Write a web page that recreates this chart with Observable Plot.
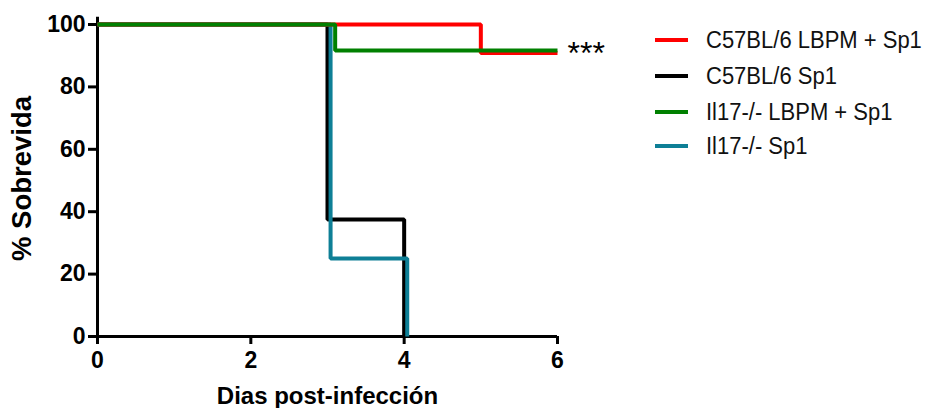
<!DOCTYPE html>
<html>
<head>
<meta charset="utf-8">
<script src="https://cdn.jsdelivr.net/npm/d3@7"></script>
<script src="https://cdn.jsdelivr.net/npm/@observablehq/plot@0.6"></script>
<style>
  html, body { margin: 0; padding: 0; background: #fff; }
  #wrap { position: relative; width: 925px; height: 408px; font-family: "Liberation Sans", Arial, sans-serif; }
  #wrap svg g[aria-label$="tick label"],
  #wrap svg g[aria-label$="tick label"] text { font-size: 23px; font-weight: bold; }
  #legend { position: absolute; left: 655px; top: 0; }
  .row { position: absolute; left: 0; height: 36px; display: flex; align-items: center; white-space: nowrap; }
  .sw { width: 33px; height: 4px; margin-right: 18px; }
  .lab { font-size: 22px; color: #111; display: inline-block; transform: scaleY(1.1); }
</style>
</head>
<body>
<div id="wrap"></div>
<script>
// Kaplan–Meier survival, four groups (days post-infection vs % survival)
const groups = ["C57BL/6 LBPM + Sp1", "C57BL/6 Sp1", "Il17-/- LBPM + Sp1", "Il17-/- Sp1"];
const colors = ["#ff0000", "#000000", "#008000", "#0e7f96"];

// step points (day, % survival) per group
const wtLbpmDays = [0, 5, 6];
const wtLbpmSurv = [100, 90.9, 90.9];
const wtSp1Days = [0, 3, 4];
const wtSp1Surv = [100, 37.5, 0];
const koLbpmDays = [0, 3.1, 6];
const koLbpmSurv = [100, 91.7, 91.7];
const koSp1Days = [0, 3.04, 4.04];
const koSp1Surv = [100, 25, 0];

const xTicks = [0, 2, 4, 6];
const yTicks = [0, 20, 40, 60, 80, 100];
const xTitle = "Dias post-infección";
const yTitle = "% Sobrevida";
const signif = "***";

const series = [
  {days: wtLbpmDays, surv: wtLbpmSurv},
  {days: wtSp1Days, surv: wtSp1Surv},
  {days: koLbpmDays, surv: koLbpmSurv},
  {days: koSp1Days, surv: koSp1Surv}
].map((s, i) => ({name: groups[i], color: colors[i], rows: s.days.map((d, j) => ({t: d, s: s.surv[j]}))}));

// drawing order: black, teal, red, green on top
const drawOrder = [1, 3, 0, 2];

const chart = Plot.plot({
  width: 925,
  height: 408,
  marginLeft: 97,
  marginRight: 368,
  marginTop: 24,
  marginBottom: 72,
  x: {domain: [0, 6]},
  y: {domain: [0, 100]},
  style: {fontFamily: "'Liberation Sans', Arial, sans-serif", color: "#000", background: "transparent", overflow: "visible"},
  marks: [
    Plot.axisY({ticks: yTicks, tickFormat: d3.format("d"), tickSize: 9, tickPadding: 3, strokeWidth: 3, label: null}),
    Plot.axisX({ticks: xTicks, tickFormat: d3.format("d"), tickSize: 8, tickPadding: 7, strokeWidth: 3, label: null}),
    Plot.ruleX([0], {y1: 0, y2: 102.3, strokeWidth: 3}),
    Plot.ruleY([0], {x1: 0, x2: 6, strokeWidth: 3}),
    ...drawOrder.map(i => Plot.line(series[i].rows, {
      x: "t", y: "s", curve: "step-after", stroke: series[i].color,
      strokeWidth: 4, strokeLinejoin: "miter", strokeLinecap: "butt"
    })),
    Plot.text([signif], {x: 6, y: 91.7, text: d => d, dx: 10, dy: 3, textAnchor: "start", lineAnchor: "middle", fontSize: 32, letterSpacing: 4}),
    Plot.text([xTitle], {frameAnchor: "bottom", dy: 67, textAnchor: "middle", lineAnchor: "bottom", fontSize: 24, fontWeight: "bold"}),
    Plot.text([yTitle], {frameAnchor: "left", dx: -75, dy: -2, rotate: -90, textAnchor: "middle", lineAnchor: "middle", fontSize: 27.5, fontWeight: "bold"})
  ]
});

const wrap = document.getElementById("wrap");
wrap.appendChild(chart);

// legend to the right of the plot
const legend = document.createElement("div");
legend.id = "legend";
const rowCenters = [40, 76, 111.5, 146];
groups.forEach((g, i) => {
  const row = document.createElement("div");
  row.className = "row";
  row.style.top = (rowCenters[i] - 18) + "px";
  const sw = document.createElement("div");
  sw.className = "sw";
  sw.style.background = colors[i];
  const lab = document.createElement("span");
  lab.className = "lab";
  lab.textContent = g;
  row.appendChild(sw);
  row.appendChild(lab);
  legend.appendChild(row);
});
wrap.appendChild(legend);
</script>
</body>
</html>
